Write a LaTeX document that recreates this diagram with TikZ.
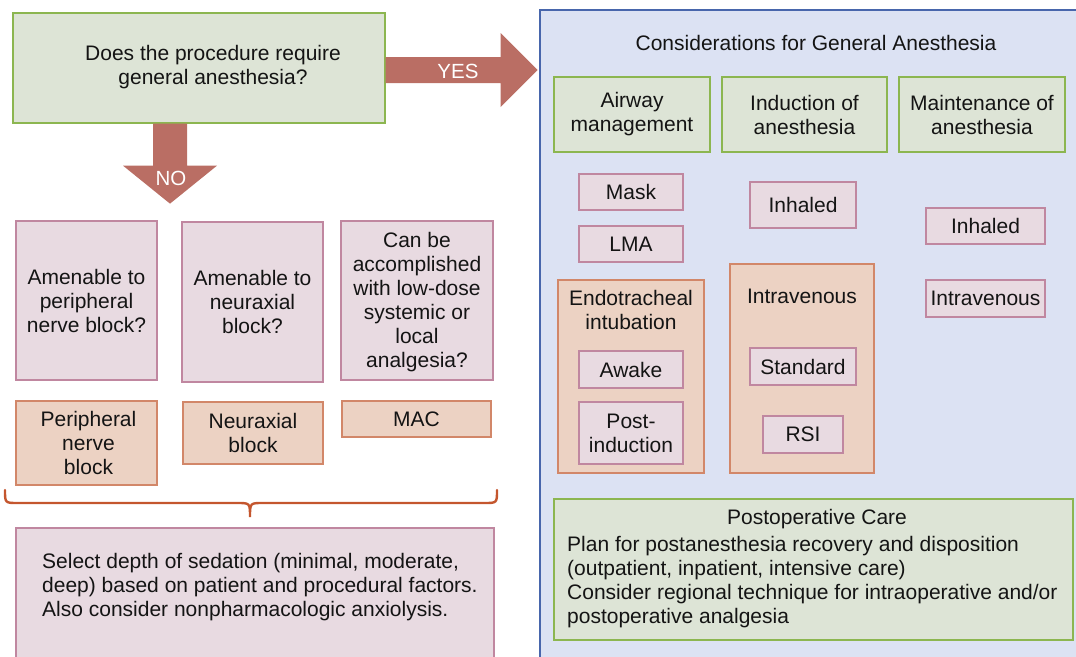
\documentclass[tikz,border=0pt]{standalone}
\usepackage{fontspec}
\setmainfont{Liberation Sans}
\definecolor{gf}{RGB}{221,228,214}
\definecolor{gb}{RGB}{140,182,80}
\definecolor{bf}{RGB}{220,226,243}
\definecolor{bb}{RGB}{72,102,172}
\definecolor{pf}{RGB}{232,218,225}
\definecolor{pb}{RGB}{192,135,160}
\definecolor{of}{RGB}{236,210,195}
\definecolor{ob}{RGB}{210,135,105}
\definecolor{ac}{RGB}{186,110,100}
\definecolor{brc}{RGB}{196,86,46}
\tikzset{
  base/.style={font=\fontsize{21}{24}\selectfont, align=center, inner sep=0pt, text=black!92},
  gbox/.style={base, draw=gb, fill=gf, line width=1.3pt},
  bbox/.style={base, draw=bb, fill=bf, line width=1.2pt},
  pbox/.style={base, draw=pb, fill=pf, line width=1.5pt},
  obox/.style={base, draw=ob, fill=of, line width=2.3pt},
  lab/.style={base},
  fatarrow/.style={fill=ac, draw=none},
  arrlab/.style={font=\fontsize{20.5}{24}\selectfont, text=white, inner sep=0pt},
  bracestyle/.style={draw=brc, line width=2.4pt, line cap=round}
}
\begin{document}
\begin{tikzpicture}[x=1pt,y=-1pt]
\useasboundingbox (0,0) rectangle (1076,656);
% question
\node[gbox, minimum width=372, minimum height=110] (q) at (199,68) {};
\node[lab] (qt) at (213,67) {Does the procedure require\\general anesthesia?};
% general anesthesia panel
\node[bbox, minimum width=545, minimum height=655] (ga) at (812.5,337.5) {};
\node[lab] (gat) at (816,43) {Considerations for General Anesthesia};
% YES arrow
\fill[fatarrow] (q.east |- 0,57) -- ++(115,0) -- ++(0,-24) -- ++(37,37) -- ++(-37,37) -- ++(0,-24) -- ++(-115,0) -- cycle;
\node[arrlab] (yes) at (458,71) {YES};
% NO arrow
\fill[fatarrow] (153,0 |- q.south) -- ++(0,42) -- ++(-30,0) -- ++(47,38) -- ++(47,-38) -- ++(-30,0) -- ++(0,-42) -- cycle;
\node[arrlab] (no) at (171,178) {NO};
% headers
\node[gbox, minimum width=156, minimum height=75] (air) at (632,114.5) {Airway\\management};
\node[gbox, minimum width=165, minimum height=75] (ind) at (804.5,114.5) {Induction of\\anesthesia};
\node[gbox, minimum width=166, minimum height=75] (mnt) at (982,114.5) {Maintenance of\\anesthesia};
% airway column
\node[pbox, minimum width=104, minimum height=36] (mask) at (631,192) {Mask};
\node[pbox, minimum width=104, minimum height=36] (lma) at (631,244) {LMA};
\node[obox, minimum width=146, minimum height=193] (ett) at (631,376.5) {};
\node[lab] (ettt) at (631,310) {Endotracheal\\intubation};
\node[pbox, minimum width=104, minimum height=37] (awake) at (631,369.5) {Awake};
\node[pbox, minimum width=104, minimum height=62] (post) at (631,433) {Post-\\induction};
% induction column
\node[pbox, minimum width=106, minimum height=46] (inh1) at (803,205) {Inhaled};
\node[obox, minimum width=144, minimum height=209] (iv1) at (802,368.5) {};
\node[lab] (iv1t) at (802,296) {Intravenous};
\node[pbox, minimum width=106, minimum height=37] (std) at (803,366.5) {Standard};
\node[pbox, minimum width=80, minimum height=37] (rsi) at (803,434.5) {RSI};
% maintenance column
\node[pbox, minimum width=119, minimum height=36] (inh2) at (985.5,226) {Inhaled};
\node[pbox, minimum width=119, minimum height=37] (iv2) at (985.5,298.5) {Intravenous};
% postoperative care
\node[gbox, minimum width=519, minimum height=141] (pc) at (813.5,569.5) {};
\node[lab] (pct) at (817,519) {Postoperative Care};
\node[lab, align=left, anchor=west] (pcb) at (567,582) {Plan for postanesthesia recovery and disposition\\(outpatient, inpatient, intensive care)\\Consider regional technique for intraoperative and/or\\postoperative analgesia};
% left column questions
\node[pbox, minimum width=141, minimum height=159] (q1) at (86.5,300.5) {Amenable to\\peripheral\\nerve block?};
\node[pbox, minimum width=141, minimum height=160] (q2) at (252.5,302) {Amenable to\\neuraxial\\block?};
\node[pbox, minimum width=152, minimum height=159] (q3) at (417,300.5) {};
\node[lab] (q3t) at (417,302) {Can be\\accomplished\\with low-dose\\systemic or\\local\\analgesia?};
\node[obox, minimum width=141, minimum height=84] (a1) at (86.5,443) {\hspace*{4pt}Peripheral\\\hspace*{4pt}nerve\\\hspace*{4pt}block};
\node[obox, minimum width=140, minimum height=62] (a2) at (253,433) {Neuraxial\\block};
\node[obox, minimum width=149, minimum height=36] (a3) at (416.5,419) {MAC};
% brace
\draw[bracestyle] (5,490) .. controls (5,503) .. (18,503) -- (237,503) .. controls (250,503) .. (250,517) .. controls (250,503) .. (263,503) -- (484,503) .. controls (497,503) .. (497,490);
% sedation
\node[pbox, minimum width=478, minimum height=137] (sed) at (255,596.5) {};
\node[lab, align=left, anchor=west] (sedt) at (42,587) {Select depth of sedation (minimal, moderate,\\deep) based on patient and procedural factors.\\Also consider nonpharmacologic anxiolysis.};
\end{tikzpicture}
\end{document}
